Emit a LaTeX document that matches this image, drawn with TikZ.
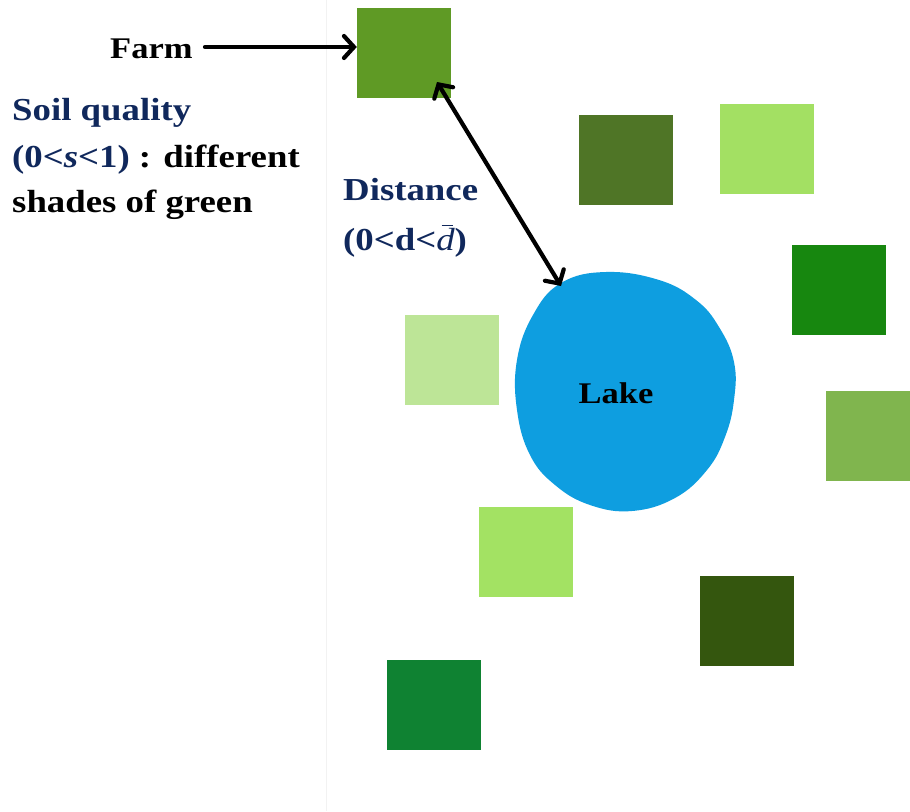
\documentclass[tikz,border=0pt]{standalone}
\usepackage{fontspec}
\setmainfont{Liberation Serif}[FakeStretch=1.15]
\usetikzlibrary{arrows.meta}
\definecolor{navy}{RGB}{16,40,92}
\definecolor{lakeblue}{RGB}{14,158,224}
\definecolor{gA}{RGB}{95,154,37}
\definecolor{gB}{RGB}{79,117,38}
\definecolor{gC}{RGB}{163,224,99}
\definecolor{gD}{RGB}{23,135,15}
\definecolor{gE}{RGB}{189,229,151}
\definecolor{gF}{RGB}{128,181,78}
\definecolor{gG}{RGB}{163,226,99}
\definecolor{gH}{RGB}{52,86,14}
\definecolor{gI}{RGB}{15,130,50}
\newcommand{\dbar}{\makebox[0pt][l]{\hspace{0.17em}\rule[0.74em]{0.34em}{1.3pt}}{\mdseries\itshape d}}
\tikzset{
  plot/.style={rectangle, inner sep=0pt, minimum width=94pt, minimum height=90pt},
  lbl/.style={font=\bfseries\fontsize{32}{36}\selectfont, inner sep=0pt, anchor=base west},
  bigarrow/.style={line width=4.2pt, line cap=round, -{Straight Barb[length=10pt,width=22pt,line cap=round]}},
  dblarrow/.style={line width=4.2pt, {Straight Barb[length=10pt,width=22pt,line cap=round]}-{Straight Barb[length=10pt,width=22pt,line cap=round]}}
}
\begin{document}
\begin{tikzpicture}[x=1pt,y=-1pt]
\useasboundingbox (0,0) rectangle (910,811);
\fill[white] (0,0) rectangle (910,811);
\draw[black!5, line width=1pt] (326,0) -- (326,811);
% farms
\node[plot, fill=gA] (farm) at (404,53) {};
\node[plot, fill=gB] (f2) at (625.5,159.5) {};
\node[plot, fill=gC] (f3) at (766.5,148.5) {};
\node[plot, fill=gD] (f4) at (839,290) {};
\node[plot, fill=gE] (f5) at (452,359.5) {};
\node[plot, fill=gF] (f6) at (873,436) {};
\node[plot, fill=gG] (f7) at (526,551.5) {};
\node[plot, fill=gH] (f8) at (746.5,620.5) {};
\node[plot, fill=gI] (f9) at (434,704.5) {};
% lake
\fill[lakeblue] plot[smooth cycle, tension=0.7] coordinates {
 (561,283) (606,272) (659,280) (696,300) (719,327) (734,362) (734,400)
 (725,437) (707,470) (675,498) (632,511) (590,505) (555,485) (530,455)
 (517,410) (517,360) (533,315)};
\node[font=\bfseries\fontsize{30}{34}\selectfont, inner sep=0pt] (lake) at (616,393) {Lake};
% labels
\node[lbl, font=\bfseries\fontsize{30}{34}\selectfont] (farmtxt) at (110,58) {Farm};
\node[lbl, text=navy] (soil1) at (12,120) {Soil quality};
\node[lbl] (soil2) at (12,167) {\textcolor{navy}{(0<\textit{s}<1)} : different};
\node[lbl] (soil3) at (12,212) {shades of green};
\node[lbl, text=navy] (dist1) at (343,200) {Distance};
\node[lbl, text=navy] (dist2) at (343,250) {(0<d<\dbar)};
% arrows
\coordinate (fstart) at (205,47);
\coordinate (dtop) at (437,82);
\coordinate (dbot) at (561,286);
\draw[bigarrow] (fstart) -- (fstart -| farm.west);
\draw[dblarrow] (dtop) -- (dbot);
\end{tikzpicture}
\end{document}
